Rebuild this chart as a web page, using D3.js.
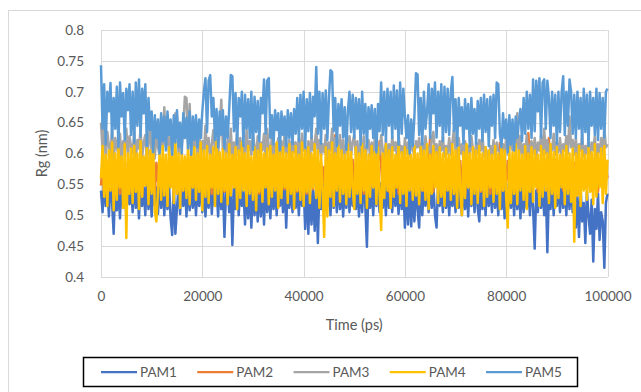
<!DOCTYPE html>
<html>
<head>
<meta charset="utf-8">
<script src="https://cdn.jsdelivr.net/npm/d3@7"></script>
<style>
  body { margin: 0; background: #fff; }
  svg { display: block; }
</style>
</head>
<body>
<div id="chart"></div>
<script>
var step = 312.5
var times = d3.range(0, 100000 + step, step)

var seriesNames = ["PAM1", "PAM2", "PAM3", "PAM4", "PAM5"]
var colors = ["#4472C4", "#ED7D31", "#A5A5A5", "#FFC000", "#5B9BD5"]

var yTicks = [0.4, 0.45, 0.5, 0.55, 0.6, 0.65, 0.7, 0.75, 0.8]
var xTicks = [0, 20000, 40000, 60000, 80000, 100000]

var pam1 = [
  .540,.505,.558,.515,.548,.498,.560,.520,.470,.552,.508,.545,.495,.562,.512,.550,.500,.555,.518,.545,
  .505,.560,.512,.548,.495,.555,.515,.545,.500,.565,.510,.552,.498,.558,.515,.545,.502,.560,.512,.550,
  .500,.555,.510,.548,.495,.468,.550,.470,.512,.545,.502,.558,.515,.550,.498,.560,.508,.545,.512,.552,
  .500,.548,.515,.560,.505,.552,.498,.545,.512,.558,.502,.550,.515,.545,.498,.555,.510,.548,.465,.540,
  .552,.505,.548,.452,.545,.510,.558,.500,.548,.515,.540,.485,.552,.495,.545,.480,.555,.500,.548,.490,
  .545,.498,.552,.485,.558,.505,.545,.495,.550,.510,.548,.500,.555,.515,.545,.505,.560,.480,.550,.512,
  .548,.505,.555,.512,.545,.500,.552,.515,.548,.478,.545,.470,.550,.485,.540,.475,.548,.455,.542,.510,
  .552,.505,.560,.515,.545,.500,.558,.512,.548,.505,.555,.510,.545,.498,.550,.512,.558,.505,.548,.515,
  .555,.510,.545,.498,.552,.505,.560,.515,.449,.550,.512,.545,.500,.558,.515,.548,.505,.552,.512,.545,
  .500,.555,.512,.548,.505,.560,.515,.545,.502,.552,.510,.548,.480,.545,.485,.550,.482,.545,.490,.548,
  .510,.480,.555,.500,.548,.515,.545,.505,.558,.512,.550,.500,.480,.552,.515,.545,.505,.560,.512,.548,
  .500,.552,.515,.545,.505,.558,.512,.548,.500,.552,.510,.545,.498,.555,.515,.548,.505,.560,.512,.490,
  .552,.510,.545,.500,.558,.515,.548,.505,.560,.512,.545,.500,.555,.510,.548,.495,.552,.505,.545,.512,
  .550,.500,.555,.510,.548,.495,.552,.505,.545,.512,.548,.500,.555,.510,.446,.540,.505,.550,.512,.545,
  .500,.548,.440,.545,.510,.552,.500,.558,.515,.548,.505,.552,.512,.545,.500,.555,.510,.548,.505,.552,
  .480,.530,.465,.545,.490,.520,.455,.538,.500,.470,.525,.425,.510,.478,.535,.460,.505,.490,.415,.520,.535
]
var pam2 = [
  .548,.585,.535,.578,.552,.590,.540,.575,.558,.588,.545,.580,.535,.592,.550,.578,.542,.585,.555,.590,
  .538,.582,.550,.590,.545,.575,.532,.588,.552,.580,.540,.592,.548,.578,.535,.585,.555,.590,.542,.580,
  .550,.588,.538,.578,.555,.592,.545,.582,.535,.590,.552,.575,.540,.588,.548,.580,.535,.592,.555,.578,
  .542,.585,.550,.590,.538,.578,.552,.588,.545,.580,.535,.592,.550,.575,.542,.588,.555,.580,.538,.590,
  .548,.578,.535,.585,.552,.590,.540,.580,.555,.588,.545,.575,.538,.592,.550,.582,.542,.578,.555,.590,
  .535,.585,.548,.580,.552,.590,.540,.578,.555,.588,.545,.582,.535,.590,.550,.578,.542,.588,.555,.580,
  .540,.592,.550,.578,.538,.585,.552,.590,.545,.580,.535,.588,.550,.575,.542,.590,.555,.582,.538,.585,
  .552,.578,.565,.592,.575,.598,.560,.585,.630,.578,.555,.590,.545,.582,.538,.588,.552,.575,.545,.590,
  .538,.585,.550,.590,.545,.578,.535,.588,.552,.582,.540,.592,.548,.578,.555,.585,.620,.580,.542,.590,
  .550,.578,.538,.588,.555,.582,.545,.590,.535,.578,.552,.585,.540,.592,.548,.580,.555,.588,.538,.575,
  .545,.590,.552,.580,.540,.588,.548,.578,.630,.585,.538,.592,.550,.580,.545,.588,.535,.578,.555,.590,
  .542,.582,.550,.590,.538,.578,.555,.588,.545,.580,.535,.592,.552,.578,.540,.585,.548,.590,.555,.580,
  .538,.588,.550,.578,.545,.590,.535,.582,.552,.585,.545,.578,.617,.590,.540,.582,.555,.588,.548,.578,
  .552,.590,.538,.580,.545,.588,.555,.578,.540,.592,.633,.585,.548,.578,.552,.590,.538,.582,.545,.588,
  .550,.580,.540,.625,.555,.578,.545,.590,.535,.582,.552,.588,.540,.578,.548,.590,.555,.580,.538,.585,
  .548,.590,.535,.578,.552,.588,.545,.580,.555,.592,.540,.578,.550,.588,.538,.582,.552,.590,.545,.578,.560
]
var pam3 = [
  .650,.605,.645,.590,.635,.612,.600,.640,.585,.625,.610,.598,.632,.588,.620,.605,.640,.595,.628,.612,
  .600,.635,.590,.622,.608,.640,.595,.618,.630,.588,.615,.645,.600,.625,.592,.638,.610,.598,.660,.605,
  .675,.612,.640,.598,.628,.605,.635,.665,.662,.600,.630,.610,.645,.692,.690,.615,.680,.602,.632,.610,
  .640,.595,.628,.608,.620,.598,.645,.602,.625,.590,.615,.638,.605,.622,.598,.640,.687,.605,.625,.590,
  .622,.600,.640,.588,.618,.608,.632,.595,.625,.602,.615,.590,.638,.605,.620,.598,.630,.612,.592,.628,
  .600,.618,.605,.632,.595,.640,.610,.598,.628,.590,.615,.605,.625,.588,.620,.600,.632,.595,.612,.622,
  .590,.628,.602,.618,.595,.625,.588,.632,.605,.610,.598,.620,.592,.628,.605,.615,.640,.600,.622,.595,
  .615,.602,.630,.595,.618,.605,.640,.598,.625,.588,.612,.630,.600,.622,.592,.615,.605,.628,.598,.618,
  .630,.598,.620,.586,.615,.602,.628,.590,.610,.622,.595,.618,.600,.625,.588,.612,.598,.630,.605,.590,
  .622,.600,.615,.592,.628,.605,.618,.595,.630,.602,.612,.588,.625,.600,.618,.595,.632,.605,.598,.620,
  .610,.625,.600,.618,.592,.628,.605,.612,.598,.622,.635,.600,.615,.590,.620,.605,.628,.595,.612,.600,
  .625,.598,.618,.640,.605,.590,.625,.600,.615,.588,.620,.602,.612,.595,.628,.605,.590,.618,.600,.622,
  .605,.630,.595,.610,.600,.585,.612,.598,.622,.590,.618,.605,.600,.592,.615,.602,.625,.598,.610,.620,
  .605,.628,.598,.665,.600,.628,.590,.615,.602,.630,.595,.612,.620,.600,.625,.592,.618,.605,.630,.598,
  .640,.600,.622,.590,.615,.605,.632,.598,.618,.602,.625,.595,.615,.605,.628,.600,.660,.610,.622,.598,
  .625,.592,.615,.605,.630,.595,.612,.600,.622,.598,.618,.605,.628,.592,.615,.602,.625,.598,.640,.610,.615
]
var pam4 = [
  .560,.612,.530,.598,.515,.605,.540,.618,.508,.600,.525,.610,.545,.595,.512,.615,.463,.600,.535,.608,
  .520,.612,.538,.600,.510,.620,.530,.595,.548,.610,.518,.605,.535,.615,.505,.490,.540,.600,.525,.612,
  .532,.598,.515,.610,.545,.605,.520,.618,.535,.600,.512,.608,.540,.595,.528,.615,.518,.602,.545,.610,
  .525,.600,.538,.618,.508,.605,.530,.612,.520,.598,.545,.610,.515,.620,.535,.602,.522,.608,.540,.600,
  .518,.615,.532,.598,.545,.610,.510,.605,.528,.618,.540,.600,.515,.612,.535,.595,.525,.610,.508,.605,
  .538,.615,.522,.600,.545,.608,.518,.612,.530,.598,.540,.618,.512,.605,.528,.610,.545,.600,.520,.615,
  .535,.602,.510,.612,.540,.598,.525,.618,.515,.605,.538,.610,.520,.600,.545,.615,.528,.605,.512,.598,
  .540,.465,.610,.498,.605,.530,.618,.515,.600,.540,.612,.522,.605,.535,.598,.518,.615,.530,.602,.545,
  .510,.610,.535,.600,.520,.615,.540,.605,.512,.598,.530,.612,.545,.602,.518,.610,.535,.476,.600,.528,
  .615,.540,.605,.512,.610,.530,.598,.545,.615,.520,.602,.535,.610,.515,.605,.540,.598,.525,.612,.532,
  .600,.518,.610,.540,.605,.525,.615,.510,.598,.535,.612,.545,.602,.520,.610,.530,.600,.515,.608,.540,
  .598,.525,.615,.535,.605,.512,.610,.540,.500,.602,.528,.615,.545,.600,.518,.610,.535,.605,.520,.612,
  .540,.600,.515,.610,.530,.605,.545,.598,.522,.612,.535,.600,.510,.615,.540,.605,.528,.480,.610,.520,
  .602,.535,.615,.518,.605,.540,.598,.525,.612,.510,.600,.538,.610,.522,.605,.545,.598,.515,.612,.530,
  .605,.540,.600,.520,.615,.535,.602,.512,.610,.528,.598,.545,.605,.518,.612,.535,.600,.522,.608,.457,
  .600,.532,.612,.515,.605,.540,.598,.525,.610,.538,.602,.518,.615,.530,.600,.545,.608,.520,.612,.535,.590
]
var pam5 = [
  .743,.640,.712,.615,.700,.668,.714,.625,.690,.640,.708,.610,.715,.660,.698,.622,.705,.670,.712,.630,
  .700,.618,.715,.645,.720,.628,.705,.665,.712,.612,.690,.638,.668,.602,.662,.625,.655,.600,.665,.620,
  .660,.605,.668,.630,.655,.598,.662,.618,.670,.610,.650,.600,.665,.625,.658,.608,.668,.598,.660,.622,
  .662,.610,.655,.625,.668,.700,.722,.635,.718,.727,.660,.690,.622,.672,.610,.668,.630,.670,.608,.660,
  .625,.672,.727,.725,.636,.698,.615,.690,.660,.700,.612,.695,.640,.688,.625,.700,.606,.692,.635,.685,
  .620,.690,.665,.720,.632,.718,.722,.625,.662,.615,.670,.638,.665,.605,.668,.630,.660,.612,.670,.625,
  .665,.615,.672,.632,.690,.620,.695,.640,.700,.610,.688,.636,.698,.625,.692,.660,.740,.632,.700,.616,
  .698,.640,.702,.622,.690,.735,.732,.636,.690,.612,.680,.645,.688,.626,.675,.606,.670,.700,.635,.695,
  .625,.690,.640,.688,.614,.700,.632,.680,.610,.675,.640,.678,.625,.672,.602,.680,.636,.715,.630,.700,
  .620,.705,.645,.700,.625,.710,.640,.702,.614,.715,.632,.705,.660,.625,.662,.600,.655,.612,.660,.730,
  .728,.630,.690,.615,.700,.640,.668,.712,.625,.705,.665,.715,.626,.700,.645,.712,.620,.708,.635,.705,
  .630,.700,.724,.636,.688,.612,.690,.645,.675,.616,.688,.640,.680,.612,.690,.632,.672,.616,.685,.640,
  .690,.620,.695,.635,.688,.612,.692,.645,.695,.625,.715,.712,.632,.610,.665,.625,.655,.602,.662,.615,
  .655,.605,.660,.625,.652,.672,.620,.690,.632,.700,.640,.695,.625,.720,.636,.718,.668,.722,.626,.715,
  .720,.640,.718,.690,.625,.700,.645,.695,.616,.700,.635,.698,.725,.630,.700,.645,.720,.700,.632,.695,
  .625,.700,.640,.690,.616,.705,.635,.695,.612,.700,.645,.690,.630,.705,.622,.698,.640,.690,.626,.700,.705
]
var seriesValues = [pam1, pam2, pam3, pam4, pam5]

var width = 641, height = 392
var margin = {top: 30, right: 33, bottom: 115, left: 101}
var font = "Lato, 'Open Sans', sans-serif"

var svg = d3.select("#chart")
  .append("svg")
    .attr("width", width)
    .attr("height", height)

svg.append("rect")
  .attr("width", width).attr("height", height)
  .attr("fill", "#fff")

// chart area frame
svg.append("rect")
  .attr("x", 8.5).attr("y", 10.5)
  .attr("width", 700).attr("height", 500)
  .attr("fill", "none")
  .attr("stroke", "#d9d9d9")

var x = d3.scaleLinear()
  .domain([0, 100000])
  .range([margin.left, width - margin.right - 0.5])

var y = d3.scaleLinear()
  .domain([0.4, 0.8])
  .range([height - margin.bottom, margin.top])

// gridlines
svg.append("g")
  .selectAll("line")
  .data(yTicks)
  .enter()
  .append("line")
  .attr("x1", x(0)).attr("x2", x(100000))
  .attr("y1", d => Math.round(y(d)) + 0.5)
  .attr("y2", d => Math.round(y(d)) + 0.5)
  .attr("stroke", "#d9d9d9")

svg.append("g")
  .selectAll("line")
  .data(xTicks)
  .enter()
  .append("line")
  .attr("x1", d => Math.round(x(d)) + 0.5)
  .attr("x2", d => Math.round(x(d)) + 0.5)
  .attr("y1", y(0.8)).attr("y2", y(0.4))
  .attr("stroke", "#d9d9d9")

// axes (labels only)
var yAxis = svg.append("g")
  .attr("transform", "translate(" + (x(0) - 14) + ",0)")
  .call(d3.axisLeft(y).tickValues(yTicks).tickSize(0).tickFormat(d => String(+d.toFixed(2))))
var xAxis = svg.append("g")
  .attr("transform", "translate(0," + (y(0.4) + 11) + ")")
  .call(d3.axisBottom(x).tickValues(xTicks).tickSize(0).tickFormat(d => String(d)))

;[yAxis, xAxis].forEach(function (g) {
  g.select(".domain").remove()
  g.selectAll("text")
    .attr("fill", "#595959")
    .style("font-family", font)
    .style("font-size", "13.5px")
})

// series, drawn in order so PAM5 ends on top
var line = d3.line()
  .x((d, i) => x(times[i]))
  .y(d => y(d))

svg.append("g")
  .selectAll("path")
  .data(seriesValues)
  .enter()
  .append("path")
  .attr("d", d => line(d))
  .attr("fill", "none")
  .attr("stroke", (d, i) => colors[i])
  .attr("stroke-width", 2.5)
  .attr("stroke-linejoin", "round")

// axis titles
svg.append("text")
  .attr("x", (x(0) + x(100000)) / 2)
  .attr("y", 330)
  .attr("text-anchor", "middle")
  .attr("fill", "#595959")
  .style("font-family", font)
  .style("font-size", "14.5px")
  .text("Time (ps)")

svg.append("text")
  .attr("transform", "translate(47," + (y(0.6)) + ") rotate(-90)")
  .attr("text-anchor", "middle")
  .attr("fill", "#595959")
  .style("font-family", font)
  .style("font-size", "14.5px")
  .text("Rg (nm)")

// legend
var legend = svg.append("g")
legend.append("rect")
  .attr("x", 83.5).attr("y", 357.5)
  .attr("width", 494).attr("height", 29)
  .attr("fill", "#fff")
  .attr("stroke", "#000")
  .attr("stroke-width", 1.5)

var item = legend.selectAll("g.item")
  .data(seriesNames)
  .enter()
  .append("g")
  .attr("class", "item")
  .attr("transform", (d, i) => "translate(" + (101 + i * 96.25) + ",372)")

item.append("line")
  .attr("x1", 0).attr("x2", 36)
  .attr("stroke", (d, i) => colors[i])
  .attr("stroke-width", 2.25)

item.append("text")
  .attr("x", 39)
  .attr("dy", "0.35em")
  .attr("fill", "#595959")
  .style("font-family", font)
  .style("font-size", "13.5px")
  .text(d => d)
</script>
</body>
</html>
